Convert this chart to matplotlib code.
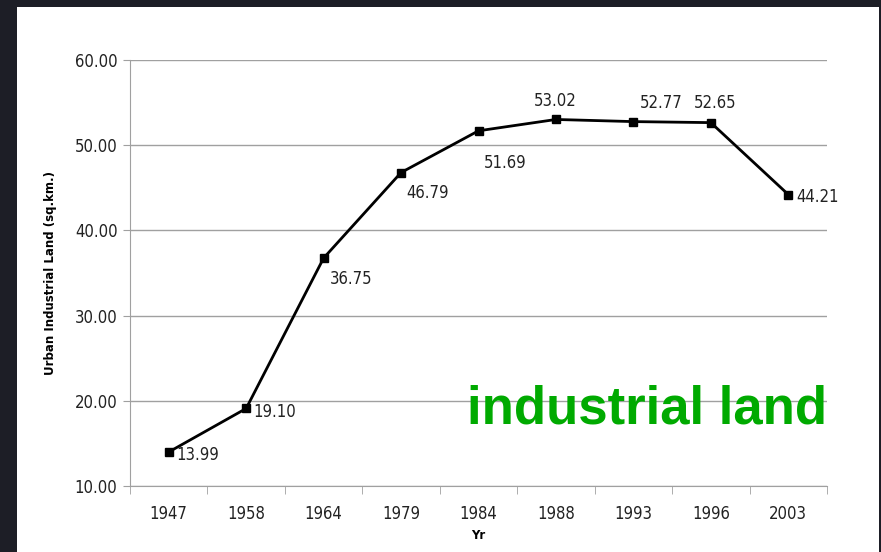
import numpy as np
import matplotlib.pyplot as plt
from matplotlib.patches import Rectangle

# urban industrial land by survey year
years = ['1947', '1958', '1964', '1979', '1984', '1988', '1993', '1996', '2003']
area = [13.99, 19.10, 36.75, 46.79, 51.69, 53.02, 52.77, 52.65, 44.21]

# label offsets (pixels) from each marker
lab_dx = [29, 29, 28, 27, 27, -1, 28, 4, 29]
lab_dy = [-3, -4, -21, -20, -32, 18, 19, 20, -2]

W, H = 881, 552
fig = plt.figure(figsize=(W / 100, H / 100), dpi=100)
fig.patch.set_facecolor('#1d1e26')
fig.patches.append(Rectangle((17 / W, 0), (879 - 17) / W, (H - 7) / H,
                             transform=fig.transFigure, facecolor='white',
                             edgecolor='none', zorder=-10))

ax = fig.add_axes([130 / W, (H - 486) / H, (827 - 130) / W, (486 - 60) / H])
ax.set_facecolor('none')

narrow = dict(family='DejaVu Sans', stretch='condensed', fontsize=12,
              color='#222222')
x = np.arange(len(years))

ax.plot(x, area, color='black', lw=2, marker='s', ms=5.5, zorder=3)
for i, v in enumerate(area):
    ax.annotate('%.2f' % v, (x[i], v), xytext=(lab_dx[i], lab_dy[i]),
                textcoords='offset pixels', ha='center', va='center', **narrow)

ax.set_xlim(-0.5, len(years) - 0.5)
ax.set_ylim(10, 60)
ax.set_yticks(np.arange(10, 61, 10))
ax.set_yticklabels(['%.2f' % t for t in np.arange(10, 61, 10)], **narrow)
ax.yaxis.grid(True, color='#a0a0a0', lw=1)
ax.set_axisbelow(True)

ax.set_xticks(x)
ax.set_xticklabels(years, **narrow)
ax.set_xticks(np.arange(-0.5, len(years)), minor=True)
ax.tick_params(axis='x', which='major', length=0, pad=14)
ax.tick_params(axis='x', which='minor', length=6, color='#a0a0a0', direction='out')
ax.tick_params(axis='y', length=5, color='#a0a0a0', pad=4)

for s in ['top', 'right']:
    ax.spines[s].set_visible(False)
for s in ['left', 'bottom']:
    ax.spines[s].set_color('#a0a0a0')

ax.set_xlabel('Yr', fontsize=8.5, fontweight='bold')
ax.set_ylabel('Urban Industrial Land (sq.km.)', fontsize=8.5, fontweight='bold')
ax.xaxis.set_label_coords(0.5, -0.1)
ax.yaxis.set_label_coords(-0.105, 0.5)

fig.text(467 / W, (H - 423) / H, 'industrial land', color='#00aa00',
         fontsize=38, fontweight='bold', family='Liberation Sans',
         ha='left', va='baseline')

fig.savefig('out.png', dpi=100, facecolor=fig.get_facecolor())
